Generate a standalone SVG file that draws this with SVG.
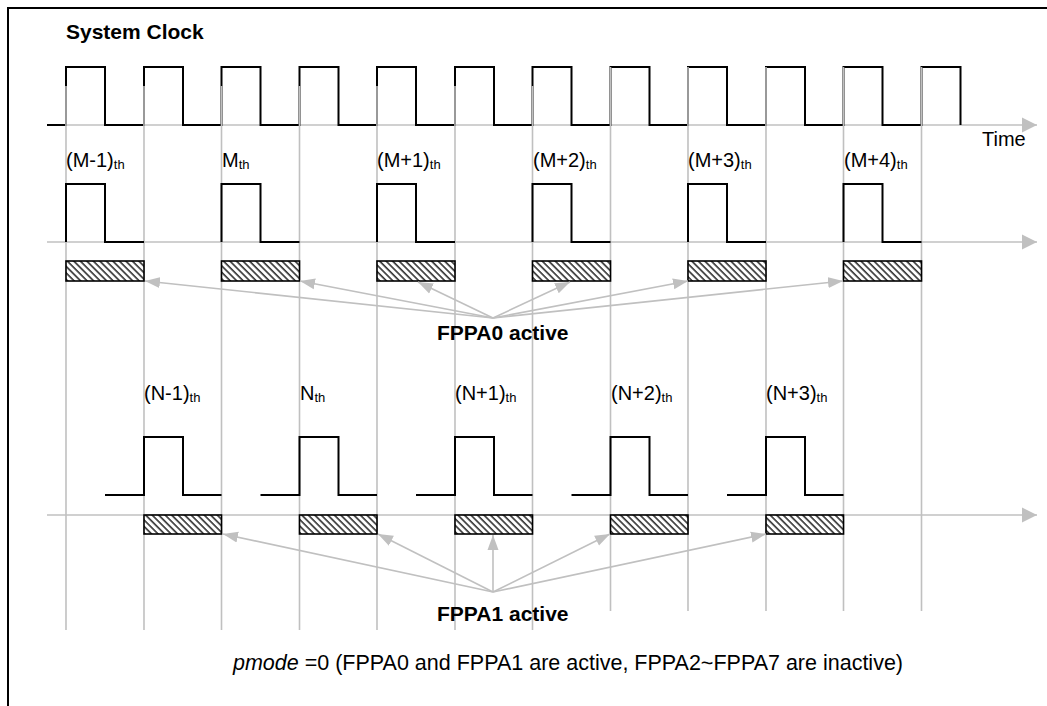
<svg xmlns="http://www.w3.org/2000/svg" width="1047" height="706" viewBox="0 0 1047 706">
<style>
.g{stroke:#c0c0c0;stroke-width:1.6;fill:none}
.w{stroke:#000;stroke-width:2;fill:none;stroke-linejoin:miter}
.box{fill:url(#hatch);stroke:#000;stroke-width:1.6}
.t{font-family:"Liberation Sans",Arial,sans-serif;fill:#000}
.lbl{font-size:20px}
.sub{font-size:13px}
.b{font-weight:bold;font-size:21px}
.arr{stroke:#c0c0c0;stroke-width:1.6;fill:none;marker-end:url(#ah)}
</style>
<defs>
<pattern id="hatch" patternUnits="userSpaceOnUse" width="4.6" height="4.6" patternTransform="rotate(-45)">
<rect width="4.6" height="4.6" fill="#fff"/>
<line x1="1" y1="0" x2="1" y2="4.6" stroke="#000" stroke-width="1.3"/>
</pattern>
<marker id="ah" markerUnits="userSpaceOnUse" markerWidth="16" markerHeight="12" refX="15" refY="6" orient="auto">
<path d="M0,0.5 L15,6 L0,11.5 z" fill="#c0c0c0"/>
</marker>
<marker id="ax" markerUnits="userSpaceOnUse" markerWidth="16" markerHeight="16" refX="15" refY="8" orient="auto">
<path d="M0,0.5 L15,8 L0,15.5 z" fill="#c0c0c0"/>
</marker>
</defs>
<rect width="1047" height="706" fill="#fff"/>
<path d="M8,706 V8 H1047" stroke="#000" stroke-width="2" fill="none"/>

<g id="axes">
<line class="g" x1="47" y1="125" x2="1037" y2="125" marker-end="url(#ax)"/>
<line class="g" x1="47" y1="242" x2="1037" y2="242" marker-end="url(#ax)"/>
<line class="g" x1="47" y1="515" x2="1037" y2="515" marker-end="url(#ax)"/>
</g>

<g id="system-clock">
<path class="w" d="M47,125 H66 V67 H105 V125 H144 V67 H183 V125 H221.5 V67 H260.5 V125 H299.5 V67 H338.5 V125 H377 V67 H416 V125 H455 V67 H494 V125 H532.5 V67 H571.5 V125 H610.5 V67 H649.5 V125 H688 V67 H727 V125 H766 V67 H805 V125 H843.5 V67 H882.5 V125 H921.5 V67 H960.5 V125"/>
</g>

<g id="grid">
<line class="g" x1="66" y1="86" x2="66" y2="630"/>
<line class="g" x1="144" y1="86" x2="144" y2="630"/>
<line class="g" x1="221.5" y1="86" x2="221.5" y2="630"/>
<line class="g" x1="299.5" y1="86" x2="299.5" y2="630"/>
<line class="g" x1="377" y1="86" x2="377" y2="630"/>
<line class="g" x1="455" y1="86" x2="455" y2="630"/>
<line class="g" x1="532.5" y1="86" x2="532.5" y2="630"/>
<line class="g" x1="610.5" y1="67" x2="610.5" y2="611"/>
<line class="g" x1="688" y1="67" x2="688" y2="611"/>
<line class="g" x1="766" y1="67" x2="766" y2="611"/>
<line class="g" x1="843.5" y1="67" x2="843.5" y2="611"/>
<line class="g" x1="921.5" y1="67" x2="921.5" y2="611"/>
</g>

<g id="fppa0-wave">
<path class="w" d="M66,242 V184 H105 V242 H144"/>
<path class="w" d="M221.5,242 V184 H260.5 V242 H299.5"/>
<path class="w" d="M377,242 V184 H416 V242 H455"/>
<path class="w" d="M532.5,242 V184 H571.5 V242 H610.5"/>
<path class="w" d="M688,242 V184 H727 V242 H766"/>
<path class="w" d="M843.5,242 V184 H882.5 V242 H921.5"/>
</g>

<g id="fppa1-wave">
<path class="w" d="M105,495 H144 V437 H183 V495 H221.5"/>
<path class="w" d="M260.5,495 H299.5 V437 H338.5 V495 H377"/>
<path class="w" d="M416,495 H455 V437 H494 V495 H532.5"/>
<path class="w" d="M571.5,495 H610.5 V437 H649.5 V495 H688"/>
<path class="w" d="M727,495 H766 V437 H805 V495 H843.5"/>
</g>

<g id="fppa0-slots">
<rect id="m-1" class="box" x="66" y="261" width="78" height="20"/>
<rect id="m" class="box" x="221.5" y="261" width="78" height="20"/>
<rect id="m+1" class="box" x="377" y="261" width="78" height="20"/>
<rect id="m+2" class="box" x="532.5" y="261" width="78" height="20"/>
<rect id="m+3" class="box" x="688" y="261" width="78" height="20"/>
<rect id="m+4" class="box" x="843.5" y="261" width="78" height="20"/>
</g>

<g id="fppa1-slots">
<rect id="n-1" class="box" x="144" y="515" width="77.5" height="19"/>
<rect id="n" class="box" x="299.5" y="515" width="77.5" height="19"/>
<rect id="n+1" class="box" x="455" y="515" width="77.5" height="19"/>
<rect id="n+2" class="box" x="610.5" y="515" width="77.5" height="19"/>
<rect id="n+3" class="box" x="766" y="515" width="77.5" height="19"/>
</g>

<g id="connectors">
<line class="arr" x1="493" y1="318" x2="145" y2="281"/>
<line class="arr" x1="493" y1="318" x2="300" y2="281"/>
<line class="arr" x1="493" y1="318" x2="418" y2="282"/>
<line class="arr" x1="493" y1="318" x2="570" y2="282"/>
<line class="arr" x1="493" y1="318" x2="688" y2="281"/>
<line class="arr" x1="493" y1="318" x2="843" y2="281"/>
<line class="arr" x1="493" y1="592" x2="223" y2="534"/>
<line class="arr" x1="493" y1="592" x2="378" y2="534"/>
<line class="arr" x1="493" y1="592" x2="493" y2="535"/>
<line class="arr" x1="493" y1="592" x2="610" y2="534"/>
<line class="arr" x1="493" y1="592" x2="766" y2="534"/>
</g>

<g id="texts">
<text class="t b" x="66" y="39" font-size="21.5">System Clock</text>
<text class="t" x="982" y="146" font-size="20">Time</text>
<text class="t lbl" x="66" y="167">(M-1)<tspan class="sub" dy="2">th</tspan></text>
<text class="t lbl" x="222" y="167">M<tspan class="sub" dy="2">th</tspan></text>
<text class="t lbl" x="377" y="167">(M+1)<tspan class="sub" dy="2">th</tspan></text>
<text class="t lbl" x="533" y="167">(M+2)<tspan class="sub" dy="2">th</tspan></text>
<text class="t lbl" x="688" y="167">(M+3)<tspan class="sub" dy="2">th</tspan></text>
<text class="t lbl" x="844" y="167">(M+4)<tspan class="sub" dy="2">th</tspan></text>
<text class="t b" x="437" y="340">FPPA0 active</text>
<text class="t lbl" x="144" y="400">(N-1)<tspan class="sub" dy="2">th</tspan></text>
<text class="t lbl" x="300" y="400">N<tspan class="sub" dy="2">th</tspan></text>
<text class="t lbl" x="455" y="400">(N+1)<tspan class="sub" dy="2">th</tspan></text>
<text class="t lbl" x="611" y="400">(N+2)<tspan class="sub" dy="2">th</tspan></text>
<text class="t lbl" x="766" y="400">(N+3)<tspan class="sub" dy="2">th</tspan></text>
<text class="t b" x="437" y="621">FPPA1 active</text>
<text class="t" x="233" y="670" font-size="21.5"><tspan font-style="italic">pmode</tspan> =0 (FPPA0 and FPPA1 are active, FPPA2~FPPA7 are inactive)</text>
</g>
</svg>
